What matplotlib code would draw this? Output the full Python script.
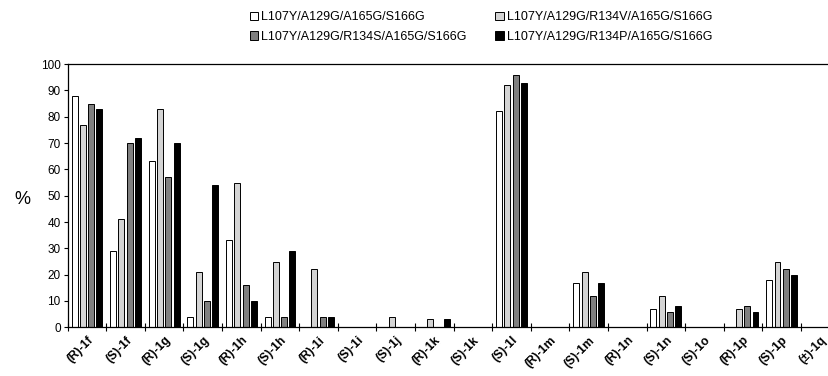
import matplotlib
matplotlib.use("Agg")
import matplotlib.pyplot as plt
from matplotlib.patches import Patch
import numpy as np

plt.rcParams["font.family"] = ["Liberation Sans", "DejaVu Sans"]

categories = ["(R)-1f", "(S)-1f", "(R)-1g", "(S)-1g", "(R)-1h", "(S)-1h",
              "(R)-1i", "(S)-1i", "(S)-1j", "(R)-1k", "(S)-1k", "(S)-1l",
              "(R)-1m", "(S)-1m", "(R)-1n", "(S)-1n", "(S)-1o", "(R)-1p",
              "(S)-1p", "(±)-1q"]

series_names = ["L107Y/A129G/A165G/S166G",
                "L107Y/A129G/R134V/A165G/S166G",
                "L107Y/A129G/R134S/A165G/S166G",
                "L107Y/A129G/R134P/A165G/S166G"]

v_a165 = [88, 29, 63, 4, 33, 4, 0, 0, 0, 0, 0, 82, 0, 17, 0, 7, 0, 0, 18, 0]
v_r134v = [77, 41, 83, 21, 55, 25, 22, 0, 4, 3, 0, 92, 0, 21, 0, 12, 0, 7, 25, 0]
v_r134s = [85, 70, 57, 10, 16, 4, 4, 0, 0, 0, 0, 96, 0, 12, 0, 6, 0, 8, 22, 0]
v_r134p = [83, 72, 70, 54, 10, 29, 4, 0, 0, 3, 0, 93, 0, 17, 0, 8, 0, 6, 20, 0]

colors = ["#ffffff", "#d4d4d4", "#808080", "#000000"]
series = [v_a165, v_r134v, v_r134s, v_r134p]

fig = plt.figure(figsize=(8.29, 3.76), dpi=100)
# axes runs a little past the right edge, like the cropped original
ax = fig.add_axes([0.0817, 0.1295, 0.931, 0.700])

x = np.arange(len(categories))
step = 0.215
width = 0.155
for i, (vals, col) in enumerate(zip(series, colors)):
    ax.bar(x + (i - 1.5) * step, vals, width=width, color=col,
           edgecolor="black", linewidth=0.7)

ax.set_xlim(-0.5, len(categories) - 0.5)
ax.set_ylim(0, 100)
ax.set_yticks(range(0, 101, 10))
ax.tick_params(axis="y", labelsize=8.5, length=3, width=0.8, pad=2)

ax.set_xticks(np.arange(-0.5, len(categories), 1))
ax.set_xticklabels([])
ax.tick_params(axis="x", which="major", direction="inout", length=6, width=0.8)
ax.set_xticks(x, minor=True)
ax.set_xticklabels(categories, minor=True, rotation=45, ha="right",
                   rotation_mode="anchor", fontsize=8.7, fontweight="bold")
ax.tick_params(axis="x", which="minor", length=0, pad=5)

for s in ["left", "bottom", "top"]:
    ax.spines[s].set_linewidth(0.9)
ax.spines["right"].set_visible(False)

fig.text(0.027, 0.47, "%", fontsize=13, ha="center", va="center")

# legend fills column-wise, so reorder to get the reference's row layout
order = [0, 2, 1, 3]
handles = [Patch(facecolor=colors[k], edgecolor="black", linewidth=0.7) for k in order]
labels = [series_names[k] for k in order]
fig.legend(handles, labels, ncol=2, loc="upper left",
           bbox_to_anchor=(0.288, 1.0), frameon=False, fontsize=9,
           handlelength=0.65, handleheight=0.65, handletextpad=0.25,
           columnspacing=2.3, labelspacing=0.62)

fig.savefig("out.png", dpi=100)
